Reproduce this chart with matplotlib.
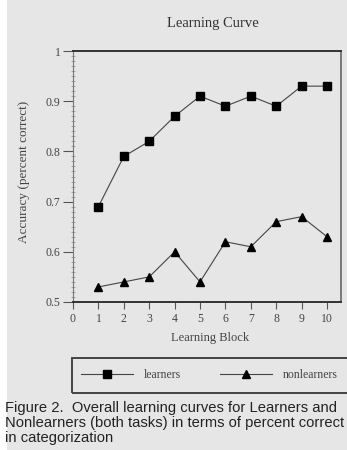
import numpy as np
import matplotlib
matplotlib.use('Agg')
import matplotlib.pyplot as plt
from matplotlib.patches import Rectangle
from matplotlib.ticker import MultipleLocator, FuncFormatter

blocks = [1, 2, 3, 4, 5, 6, 7, 8, 9, 10]
learners = [0.69, 0.79, 0.82, 0.87, 0.91, 0.89, 0.91, 0.89, 0.93, 0.93]
nonlearners = [0.53, 0.54, 0.55, 0.60, 0.54, 0.62, 0.61, 0.66, 0.67, 0.63]

series_labels = ['learners', 'nonlearners']
caption_lines = [
    'Figure 2.  Overall learning curves for Learners and',
    'Nonlearners (both tasks) in terms of percent correct',
    'in categorization',
]

W, H = 347, 450
bg = '#e6e6e6'
serif = 'Liberation Serif'

fig = plt.figure(figsize=(W / 100, H / 100), dpi=100, facecolor=bg)
# white strip on the left edge of the scan
fig.patches.append(Rectangle((0, 0), 7 / W, 1, transform=fig.transFigure,
                             facecolor='white', edgecolor='none', zorder=0))

ax = fig.add_axes([73 / W, 1 - 302 / H, (341 - 73) / W, (302 - 51) / H])
ax.set_facecolor(bg)

ax.plot(blocks, learners, color='#444444', lw=0.8, marker='s', ms=5.5,
        mfc='black', mec='black', label=series_labels[0])
ax.plot(blocks, nonlearners, color='#444444', lw=0.8, marker='^', ms=6,
        mfc='black', mec='black', label=series_labels[1])

ax.set_xlim(0, 10.55)
ax.set_ylim(0.5, 1.0)
ax.set_xticks(range(0, 11))
ax.yaxis.set_major_locator(MultipleLocator(0.1))
ax.yaxis.set_minor_locator(MultipleLocator(0.01))
ax.yaxis.set_major_formatter(FuncFormatter(lambda v, p: '1' if abs(v - 1) < 1e-9 else f'{v:.1f}'))

ax.tick_params(axis='y', which='major', direction='out', length=7, width=0.8,
               color='#555555', labelsize=8.5, pad=2)
ax.tick_params(axis='y', which='minor', direction='inout', length=2.5, width=0.5,
               color='#888888')
ax.tick_params(axis='x', which='major', direction='out', length=5, width=0.8,
               color='#555555', labelsize=8.5, pad=3)
for lab in ax.get_xticklabels() + ax.get_yticklabels():
    lab.set_fontfamily(serif)
    lab.set_color('#444444')

ax.spines['top'].set_color('#333333')
ax.spines['top'].set_linewidth(1.4)
ax.spines['bottom'].set_color('#333333')
ax.spines['bottom'].set_linewidth(1.4)
ax.spines['left'].set_color('#777777')
ax.spines['left'].set_linewidth(0.8)
ax.spines['right'].set_color('#666666')
ax.spines['right'].set_linewidth(1.2)

fig.text(213 / W, 1 - 24 / H, 'Learning Curve', family=serif, fontsize=10.5,
         color='#333333', ha='center', va='center')
fig.text(24 / W, 1 - 172 / H, 'Accuracy (percent correct)', family=serif,
         fontsize=9.5, color='#444444', rotation=90, ha='center', va='center')
fig.text(210 / W, 1 - 338 / H, 'Learning Block', family=serif, fontsize=9,
         color='#444444', ha='center', va='center')

# legend box runs off the right edge in the original scan
fig.patches.append(Rectangle((72 / W, 1 - 393 / H), (365 - 72) / W, 35 / H,
                             transform=fig.transFigure, facecolor='none',
                             edgecolor='#444444', linewidth=1.4, zorder=1))
leg = fig.legend(loc='center left', bbox_to_anchor=(72 / W, 1 - 375.5 / H),
                 ncol=2, frameon=False,
                 handlelength=4.4, handletextpad=0.95, columnspacing=3.3,
                 borderpad=0.75, borderaxespad=0, prop={'family': serif, 'size': 8.5})
for t in leg.get_texts():
    t.set_color('#444444')

for i, line in enumerate(caption_lines):
    fig.text(5 / W, 1 - (408 + 15 * i) / H, line, family='Liberation Sans',
             fontsize=10.6, color='#222222', ha='left', va='center')

fig.savefig('out.png', dpi=100, facecolor=bg)
